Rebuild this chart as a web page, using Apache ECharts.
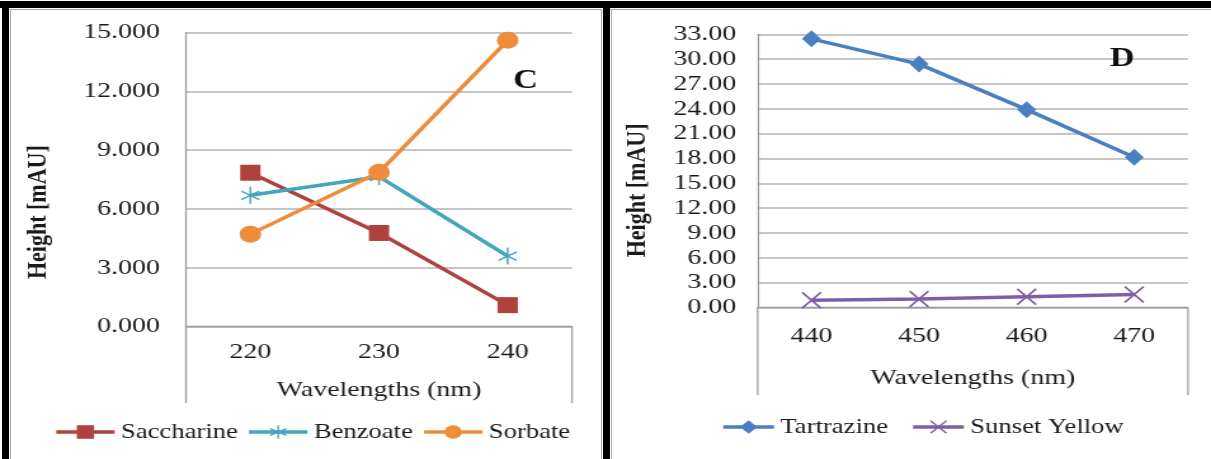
<!DOCTYPE html>
<html>
<head>
<meta charset="utf-8">
<title>Peak height vs wavelength</title>
<script src="https://cdn.jsdelivr.net/npm/echarts@6/dist/echarts.min.js"></script>
<style>
  html, body { margin: 0; padding: 0; background: #fff; width: 1211px; height: 459px; overflow: hidden; position: relative; }
  /* the figure is laid out narrower and stretched horizontally */
  #chart { position: absolute; left: 0; top: 0; width: 954px; height: 459px; transform: scaleX(1.26939); transform-origin: 0 0; }
  .bar { position: absolute; background: #000; }
  .rule { position: absolute; background: #a9a9a9; }
</style>
</head>
<body>
<div id="chart"></div>
<!-- panel frames -->
<div class="bar" style="left:0;top:1px;width:1211px;height:7px"></div>
<div class="bar" style="left:2px;top:1px;width:7px;height:458px"></div>
<div class="bar" style="left:603px;top:1px;width:7px;height:458px"></div>
<div class="rule" style="left:9px;top:9px;width:593px;height:1px"></div>
<div class="rule" style="left:10px;top:9px;width:1px;height:450px"></div>
<div class="rule" style="left:601px;top:9px;width:1px;height:450px"></div>
<div class="rule" style="left:610px;top:9px;width:601px;height:1px"></div>
<div class="rule" style="left:611px;top:9px;width:1px;height:450px"></div>
<script>
// Panel C: sweeteners / preservatives, 220-240 nm
const wavelengthsC = ['220', '230', '240'];
const saccharine = [7.85, 4.78, 1.10];
const benzoate = [6.70, 7.65, 3.60];
const sorbate = [4.72, 7.87, 14.60];
const yTicksC = [0, 3, 6, 9, 12, 15];

// Panel D: colourants, 440-470 nm
const wavelengthsD = ['440', '450', '460', '470'];
const tartrazine = [32.45, 29.40, 23.90, 18.15];
const sunsetYellow = [0.88, 1.02, 1.30, 1.58];
const yTicksD = [0, 3, 6, 9, 12, 15, 18, 21, 24, 27, 30, 33];

const STRETCH = 1211 / 954;
const px = v => v / STRETCH;           // page x -> layout x
const FONT = '"Liberation Serif", "Times New Roman", serif';
const TEXT = '#1a1a1a';
const AXIS = '#9c9c9c';
const GRIDLINE = '#b3b3b3';

const COLORS = {
  saccharine: '#B0423E',
  benzoate: '#43A5BE',
  sorbate: '#EE8C3B',
  tartrazine: '#4A7FC2',
  sunset: '#7E5FA6'
};

// asterisk and cross markers built from thin bars
const STAR = 'path://M9.1 0L10.9 0L10.9 20L9.1 20Z' +
  'M1.75 4.22L19.15 14.22L18.25 15.78L0.85 5.78Z' +
  'M0.85 14.22L18.25 4.22L19.15 5.78L1.75 15.78Z';
const CROSS = 'path://M0.8 -0.8L20.8 19.2L19.2 20.8L-0.8 0.8Z' +
  'M-0.8 19.2L19.2 -0.8L20.8 0.8L0.8 20.8Z';

const gridC = { left: px(186), top: 32.5, width: px(572) - px(186), height: 294.2 };
const gridD = { left: px(757.7), top: 34.3, width: px(1188) - px(757.7), height: 273.2 };

const textStyle = { fontFamily: FONT, fontSize: 22, color: TEXT };
const legendText = { fontFamily: FONT, fontSize: 21, color: TEXT };

function xAxisFor(gridIndex, data, margin, nameGap) {
  return {
    type: 'category', gridIndex, data,
    axisLine: { lineStyle: { color: AXIS, width: 1.3 } },
    axisTick: { show: false },
    axisLabel: Object.assign({ margin }, textStyle),
    name: 'Wavelengths (nm)', nameLocation: 'middle', nameGap,
    nameTextStyle: Object.assign({}, textStyle)
  };
}

function yAxisFor(gridIndex, ticks, decimals, margin, nameGap, shift) {
  return {
    type: 'value', gridIndex,
    min: ticks[0], max: ticks[ticks.length - 1], interval: ticks[1] - ticks[0],
    axisLine: { show: true, lineStyle: { color: AXIS, width: 1.3 } },
    axisTick: { show: false },
    splitLine: { lineStyle: { color: GRIDLINE, width: 1.5 } },
    axisLabel: Object.assign({ margin, formatter: v => v.toFixed(decimals) }, textStyle),
    name: 'Height [mAU]', nameLocation: 'middle', nameGap,
    nameTextStyle: Object.assign({ fontWeight: 'bold', padding: [0, shift, 0, 0] }, textStyle)
  };
}

function lineSeries(name, data, axis, color, symbol, size) {
  return {
    name, type: 'line', data,
    xAxisIndex: axis, yAxisIndex: axis,
    symbol, symbolSize: size,
    color,
    lineStyle: { color, width: 3.5 },
    itemStyle: { color },
    emphasis: { disabled: true }
  };
}

const chart = echarts.init(document.getElementById('chart'), null, { renderer: 'canvas' });

chart.setOption({
  animation: false,
  backgroundColor: 'transparent',
  grid: [gridC, gridD],
  xAxis: [
    xAxisFor(0, wavelengthsC, 14.5, 52.5),
    xAxisFor(1, wavelengthsD, 18, 59.5)
  ],
  yAxis: [
    yAxisFor(0, yTicksC, 3, 20.5, 105, 65),
    yAxisFor(1, yTicksD, 2, 17, 84, 39)
  ],
  legend: [
    {
      data: ['Saccharine', 'Benzoate', 'Sorbate'],
      left: px(54), top: 421.5, padding: 0,
      itemWidth: 46, itemHeight: 17, itemGap: 7,
      lineStyle: { width: 3.5 },
      textStyle: Object.assign({}, legendText),
      selectedMode: false
    },
    {
      data: ['Tartrazine', 'Sunset Yellow'],
      left: px(721), top: 416.5, padding: 0,
      itemWidth: 40, itemHeight: 17, itemGap: 18,
      lineStyle: { width: 3.5 },
      textStyle: Object.assign({}, legendText),
      selectedMode: false
    }
  ],
  series: [
    lineSeries('Saccharine', saccharine, 0, COLORS.saccharine, 'rect', 16),
    lineSeries('Benzoate', benzoate, 0, COLORS.benzoate, STAR, [15, 17]),
    lineSeries('Sorbate', sorbate, 0, COLORS.sorbate, 'circle', 17),
    lineSeries('Tartrazine', tartrazine, 1, COLORS.tartrazine, 'diamond', [15, 17]),
    lineSeries('Sunset Yellow', sunsetYellow, 1, COLORS.sunset, CROSS, [16, 17])
  ],
  graphic: [
    // plot-area side borders below the category axis
    { type: 'line', silent: true, shape: { x1: gridC.left, y1: gridC.top + gridC.height, x2: gridC.left, y2: 403 }, style: { stroke: AXIS, lineWidth: 1.3 } },
    { type: 'line', silent: true, shape: { x1: gridC.left + gridC.width, y1: gridC.top + gridC.height, x2: gridC.left + gridC.width, y2: 403 }, style: { stroke: AXIS, lineWidth: 1.3 } },
    { type: 'line', silent: true, shape: { x1: gridD.left, y1: gridD.top + gridD.height, x2: gridD.left, y2: 395 }, style: { stroke: AXIS, lineWidth: 1.3 } },
    { type: 'line', silent: true, shape: { x1: gridD.left + gridD.width, y1: gridD.top + gridD.height, x2: gridD.left + gridD.width, y2: 395 }, style: { stroke: AXIS, lineWidth: 1.3 } },
    // panel letters
    { type: 'text', silent: true, z: 100, x: px(525.5), y: 81, style: { text: 'C', font: 'bold 27px ' + FONT, fill: '#111', align: 'center', verticalAlign: 'middle' } },
    { type: 'text', silent: true, z: 100, x: px(1122), y: 59, style: { text: 'D', font: 'bold 27px ' + FONT, fill: '#111', align: 'center', verticalAlign: 'middle' } }
  ]
});
</script>
</body>
</html>
